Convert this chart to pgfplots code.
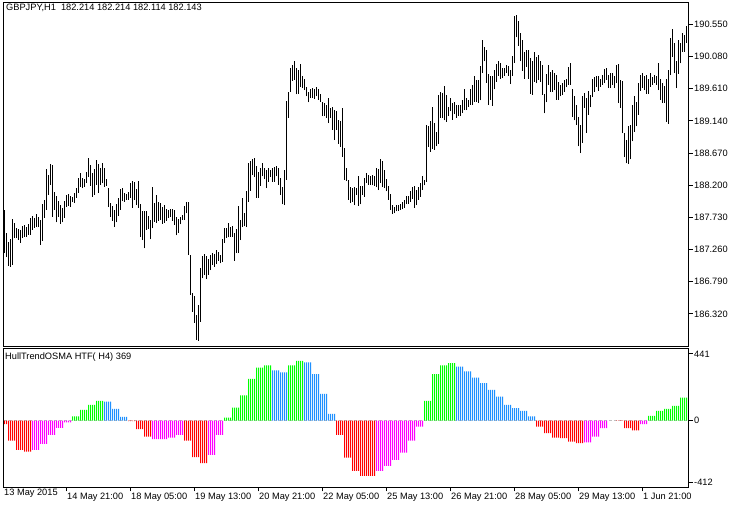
\documentclass[border=0pt]{standalone}
\usepackage{pgfplots}
\usepackage{pgfplotstable}
\pgfplotsset{compat=1.18}
\usepackage{fontspec}
\setmainfont{Liberation Sans}
\newcommand\mtfont{\fontsize{9.25bp}{11bp}\selectfont}
\definecolor{mtred}{HTML}{FF0000}
\definecolor{mtmag}{HTML}{FF00FF}
\definecolor{mtgreen}{HTML}{00FF00}
\definecolor{mtblue}{HTML}{1E90FF}
\definecolor{mtlevel}{HTML}{C0C0C0}

% GBPJPY H1 bars, high and low, oldest first
\pgfplotstableread[row sep=\\]{
h l\\
187.84 187.21\\ 187.50 187.15\\ 187.37 187.02\\ 187.42 187.01\\ 187.71 187.04\\ 187.65 187.43\\ 187.58 187.43\\ 187.56 187.40\\ 187.55 187.36\\ 187.61 187.43\\
187.62 187.45\\ 187.59 187.45\\ 187.64 187.48\\ 187.72 187.48\\ 187.75 187.55\\ 187.72 187.58\\ 187.78 187.59\\ 187.74 187.59\\ 187.69 187.33\\ 187.93 187.39\\
187.99 187.72\\ 188.44 187.84\\ 188.35 188.06\\ 188.51 188.21\\ 188.50 187.74\\ 188.10 187.84\\ 188.04 187.66\\ 187.97 187.74\\ 187.91 187.64\\ 187.87 187.66\\
187.97 187.72\\ 188.06 187.88\\ 188.07 187.90\\ 188.04 187.88\\ 188.03 187.96\\ 188.09 187.94\\ 188.16 188.02\\ 188.31 188.09\\ 188.38 188.18\\ 188.31 188.16\\
188.29 188.18\\ 188.39 188.23\\ 188.60 188.32\\ 188.50 188.19\\ 188.38 188.03\\ 188.44 188.06\\ 188.57 188.21\\ 188.51 188.09\\ 188.45 188.21\\ 188.53 188.23\\
188.45 188.18\\ 188.29 188.19\\ 188.16 187.88\\ 187.94 187.74\\ 187.90 187.68\\ 187.84 187.59\\ 187.93 187.66\\ 188.02 187.75\\ 188.15 187.84\\ 188.16 187.97\\
188.09 187.96\\ 188.07 187.99\\ 188.10 187.99\\ 188.23 188.02\\ 188.26 187.87\\ 188.25 187.99\\ 188.15 187.91\\ 188.26 187.87\\ 187.93 187.45\\ 187.82 187.40\\
187.82 187.28\\ 187.82 187.55\\ 187.75 187.56\\ 187.70 187.41\\ 188.17 187.57\\ 187.94 187.67\\ 188.06 187.65\\ 187.95 187.68\\ 187.94 187.69\\ 187.89 187.64\\
187.91 187.65\\ 187.86 187.68\\ 187.84 187.72\\ 187.86 187.74\\ 187.85 187.68\\ 187.84 187.62\\ 187.74 187.47\\ 187.71 187.51\\ 187.73 187.63\\ 187.77 187.69\\
187.90 187.70\\ 187.96 187.79\\ 187.95 187.18\\ 187.18 186.60\\ 186.62 186.35\\ 186.58 186.19\\ 186.31 185.94\\ 186.45 185.93\\ 186.99 186.21\\ 187.17 186.84\\
187.19 186.89\\ 187.16 186.83\\ 187.13 186.89\\ 187.18 186.96\\ 187.21 187.04\\ 187.20 187.01\\ 187.26 187.05\\ 187.23 187.10\\ 187.18 187.06\\ 187.41 187.08\\
187.57 187.36\\ 187.57 187.43\\ 187.65 187.44\\ 187.59 187.45\\ 187.60 187.45\\ 187.51 187.10\\ 187.56 187.21\\ 187.90 187.21\\ 187.69 187.40\\ 188.01 187.59\\
187.80 187.60\\ 188.11 187.59\\ 188.53 187.96\\ 188.55 188.12\\ 188.58 188.35\\ 188.60 188.32\\ 188.48 188.02\\ 188.40 188.02\\ 188.45 188.19\\ 188.53 188.33\\
188.46 188.29\\ 188.42 188.16\\ 188.45 188.25\\ 188.42 188.32\\ 188.45 188.25\\ 188.47 188.25\\ 188.48 188.33\\ 188.45 188.21\\ 188.31 188.06\\ 188.18 187.92\\
188.42 187.91\\ 189.43 188.28\\ 189.57 189.19\\ 189.92 189.57\\ 189.96 189.73\\ 190.01 189.74\\ 189.91 189.53\\ 189.89 189.54\\ 189.97 189.64\\ 189.79 189.62\\
189.76 189.59\\ 189.64 189.50\\ 189.57 189.41\\ 189.60 189.47\\ 189.62 189.48\\ 189.60 189.46\\ 189.63 189.50\\ 189.60 189.45\\ 189.54 189.42\\ 189.42 189.21\\
189.40 189.21\\ 189.37 189.18\\ 189.47 189.11\\ 189.33 189.18\\ 189.35 189.01\\ 189.30 188.86\\ 189.28 189.01\\ 189.15 188.81\\ 189.14 188.76\\ 189.33 188.62\\
188.74 188.28\\ 188.45 188.26\\ 188.28 187.99\\ 188.17 187.94\\ 188.16 187.96\\ 188.17 187.91\\ 188.16 188.06\\ 188.34 187.90\\ 188.19 187.92\\ 188.19 188.06\\
188.30 188.03\\ 188.38 188.23\\ 188.35 188.21\\ 188.33 188.21\\ 188.35 188.20\\ 188.33 188.19\\ 188.45 188.17\\ 188.44 188.13\\ 188.58 188.24\\ 188.55 188.18\\
188.42 188.16\\ 188.29 188.11\\ 188.19 187.99\\ 188.08 187.84\\ 187.91 187.78\\ 187.89 187.79\\ 187.91 187.82\\ 187.91 187.83\\ 187.92 187.84\\ 187.96 187.85\\
187.99 187.87\\ 188.05 187.92\\ 188.04 187.93\\ 188.11 187.96\\ 188.18 188.00\\ 188.19 187.87\\ 188.13 187.91\\ 188.18 187.99\\ 188.24 188.03\\ 188.33 188.13\\
188.28 188.20\\ 189.08 188.25\\ 189.07 188.76\\ 189.14 188.69\\ 189.35 188.73\\ 189.11 188.72\\ 188.98 188.77\\ 189.52 188.81\\ 189.57 189.19\\ 189.55 189.18\\
189.65 189.15\\ 189.52 189.13\\ 189.35 189.21\\ 189.47 189.28\\ 189.40 189.16\\ 189.42 189.24\\ 189.38 189.19\\ 189.38 189.21\\ 189.37 189.21\\ 189.44 189.26\\
189.61 189.30\\ 189.47 189.30\\ 189.45 189.35\\ 189.61 189.38\\ 189.67 189.37\\ 189.80 189.42\\ 189.74 189.42\\ 189.74 189.40\\ 189.94 189.44\\ 190.32 189.84\\
190.22 190.01\\ 190.17 189.70\\ 189.83 189.37\\ 189.79 189.45\\ 189.79 189.36\\ 189.88 189.60\\ 189.97 189.71\\ 190.02 189.80\\ 189.98 189.76\\ 189.91 189.77\\
189.92 189.80\\ 189.96 189.84\\ 189.94 189.80\\ 189.88 189.68\\ 190.09 189.80\\ 190.67 189.99\\ 190.69 190.36\\ 190.60 190.24\\ 190.43 190.01\\ 190.32 189.87\\
190.15 189.76\\ 190.18 189.93\\ 190.18 189.76\\ 190.06 189.54\\ 190.01 189.52\\ 190.15 189.71\\ 190.08 189.69\\ 190.10 189.74\\ 190.01 189.71\\ 189.96 189.52\\
189.53 189.25\\ 189.83 189.41\\ 189.96 189.67\\ 189.86 189.57\\ 189.89 189.57\\ 189.84 189.59\\ 189.81 189.45\\ 189.71 189.45\\ 189.67 189.50\\ 189.69 189.52\\
189.74 189.57\\ 189.75 189.63\\ 189.93 189.67\\ 189.99 189.67\\ 189.60 189.20\\ 189.51 189.15\\ 189.37 189.08\\ 189.20 188.77\\ 189.08 188.67\\ 189.50 188.82\\
189.55 189.33\\ 189.47 188.97\\ 189.58 189.23\\ 189.52 189.34\\ 189.75 189.49\\ 189.78 189.57\\ 189.79 189.64\\ 189.80 189.58\\ 189.76 189.64\\ 189.81 189.67\\
189.90 189.69\\ 189.91 189.74\\ 189.81 189.62\\ 189.84 189.62\\ 189.84 189.67\\ 189.80 189.62\\ 189.96 189.69\\ 189.97 189.40\\ 189.74 189.33\\ 189.73 188.96\\
188.96 188.61\\ 188.86 188.52\\ 189.06 188.51\\ 189.08 188.58\\ 189.37 188.84\\ 189.50 188.98\\ 189.42 189.06\\ 189.69 189.23\\ 189.81 189.58\\ 189.84 189.62\\
189.79 189.59\\ 189.81 189.54\\ 189.76 189.54\\ 189.84 189.64\\ 189.78 189.67\\ 189.81 189.69\\ 189.79 189.67\\ 189.99 189.59\\ 189.76 189.45\\ 189.69 189.40\\
189.65 189.40\\ 189.76 189.13\\ 189.89 189.10\\ 190.35 189.81\\ 190.49 190.08\\ 190.28 189.84\\ 190.01 189.62\\ 190.32 189.83\\ 190.28 189.98\\ 190.42 190.15\\
190.40 190.15\\ 190.53 190.28\\
}\bars

% HullTrendOSMA on H4: first H1 bar of each H4 block and its value, by colour
\pgfplotstableread[row sep=\\]{
i v\\ -2 -24\\ 2 -133\\ 6 -194\\ 10 -206\\ 62 -4\\ 66 -57\\ 70 -106\\ 90 -133\\ 94 -243\\ 98 -283\\
166 -95\\ 170 -245\\ 174 -334\\ 178 -367\\ 182 -367\\ 266 -40\\ 270 -84\\ 274 -113\\ 278 -117\\ 282 -139\\ 286 -150\\ 306 -3\\ 310 -51\\ 314 -66\\
}\hred
\pgfplotstableread[row sep=\\]{
i v\\ 14 -194\\ 18 -155\\ 22 -95\\ 26 -49\\ 30 -13\\ 74 -124\\ 78 -124\\ 82 -113\\ 86 -95\\ 102 -228\\ 106 -95\\
186 -334\\ 190 -301\\ 194 -261\\ 198 -212\\ 202 -133\\ 206 -40\\ 290 -144\\ 294 -106\\ 298 -51\\ 318 -24\\
}\hmag
\pgfplotstableread[row sep=\\]{
i v\\ 34 27\\ 38 71\\ 42 104\\ 46 130\\ 110 20\\ 114 86\\ 118 166\\ 122 276\\ 126 351\\ 130 365\\ 142 365\\ 146 396\\
210 130\\ 214 307\\ 218 365\\ 222 380\\ 322 31\\ 326 64\\ 330 77\\ 334 97\\ 338 152\\
}\hgreen
\pgfplotstableread[row sep=\\]{
i v\\ 50 126\\ 54 77\\ 58 24\\ 134 332\\ 138 320\\ 150 385\\ 154 307\\ 158 177\\ 162 44\\
226 358\\ 230 325\\ 234 285\\ 238 248\\ 242 203\\ 246 159\\ 250 104\\ 254 82\\ 258 64\\ 262 27\\
}\hblue

% each H4 value is drawn on its four H1 bars
\newcommand\hbars[2]{%
  \pgfplotsinvokeforeach{0,1,2,3}{%
    \addplot[ybar, bar width=1bp, bar shift=0pt, draw=none, fill=#2]
      table[x expr=\thisrow{i}+##1, y=v] {#1};}}

\begin{document}
\begin{tikzpicture}[x=1bp,y=1bp]
\useasboundingbox (0,0) rectangle (740,508);
\fill[white] (0,0) rectangle (740,508);
\pgfplotsset{mt/.style={
  anchor=south west, scale only axis, width=685bp,
  xmin=-0.5, xmax=342,
  axis line style={line width=1bp},
  tick style={black, line width=1bp},
  major tick length=4bp, tick align=outside,
  ytick pos=right, yticklabel pos=right,
  tick label style={font=\mtfont, inner sep=1.5bp},
}}

\begin{axis}[mt, at={(3.5bp,161.5bp)}, height=344bp,
  ymin=185.845, ymax=190.871,
  xtick=\empty,
  ytick={186.32,186.79,187.26,187.73,188.20,188.67,189.14,189.61,190.08,190.55},
  yticklabels={186.320,186.790,187.260,187.730,188.200,188.670,189.140,189.610,190.080,190.550},
]
\addplot[draw=none, mark=none,
  error bars/.cd, y dir=plus, y explicit, error mark=none,
  error bar style={draw=black, solid, line width=1bp}]
  table[x expr=\coordindex, y=l, y error expr=\thisrow{h}-\thisrow{l}] {\bars};
\end{axis}

\begin{axis}[mt, at={(3.5bp,20.5bp)}, height=139bp,
  ymin=-443.8, ymax=477.5,
  ytick={-412,0,441}, yticklabels={-412,0,441},
  xtick pos=bottom,
  xtick={31,63,95,127,159,191,223,255,287,319},
  xticklabels={14 May 21:00,18 May 05:00,19 May 13:00,20 May 21:00,22 May 05:00,25 May 13:00,26 May 21:00,28 May 05:00,29 May 13:00,1 Jun 21:00},
  xticklabel style={anchor=north west, xshift=-1bp},
  extra x ticks={-0.5}, extra x tick labels={13 May 2015},
  extra x tick style={major tick length=0pt},
]
\addplot[mtlevel, line width=1bp, dash pattern=on 3bp off 2bp, forget plot]
  coordinates {(-0.5,0) (342,0)};
\hbars{\hred}{mtred}
\hbars{\hmag}{mtmag}
\hbars{\hgreen}{mtgreen}
\hbars{\hblue}{mtblue}
\end{axis}

\node[anchor=base west, inner sep=0, font=\mtfont] at (6,497) {GBPJPY,H1\ \ 182.214 182.214 182.114 182.143};
\node[anchor=base west, inner sep=0, font=\mtfont] at (5,148) {HullTrendOSMA HTF( H4) 369};
\end{tikzpicture}
\end{document}
